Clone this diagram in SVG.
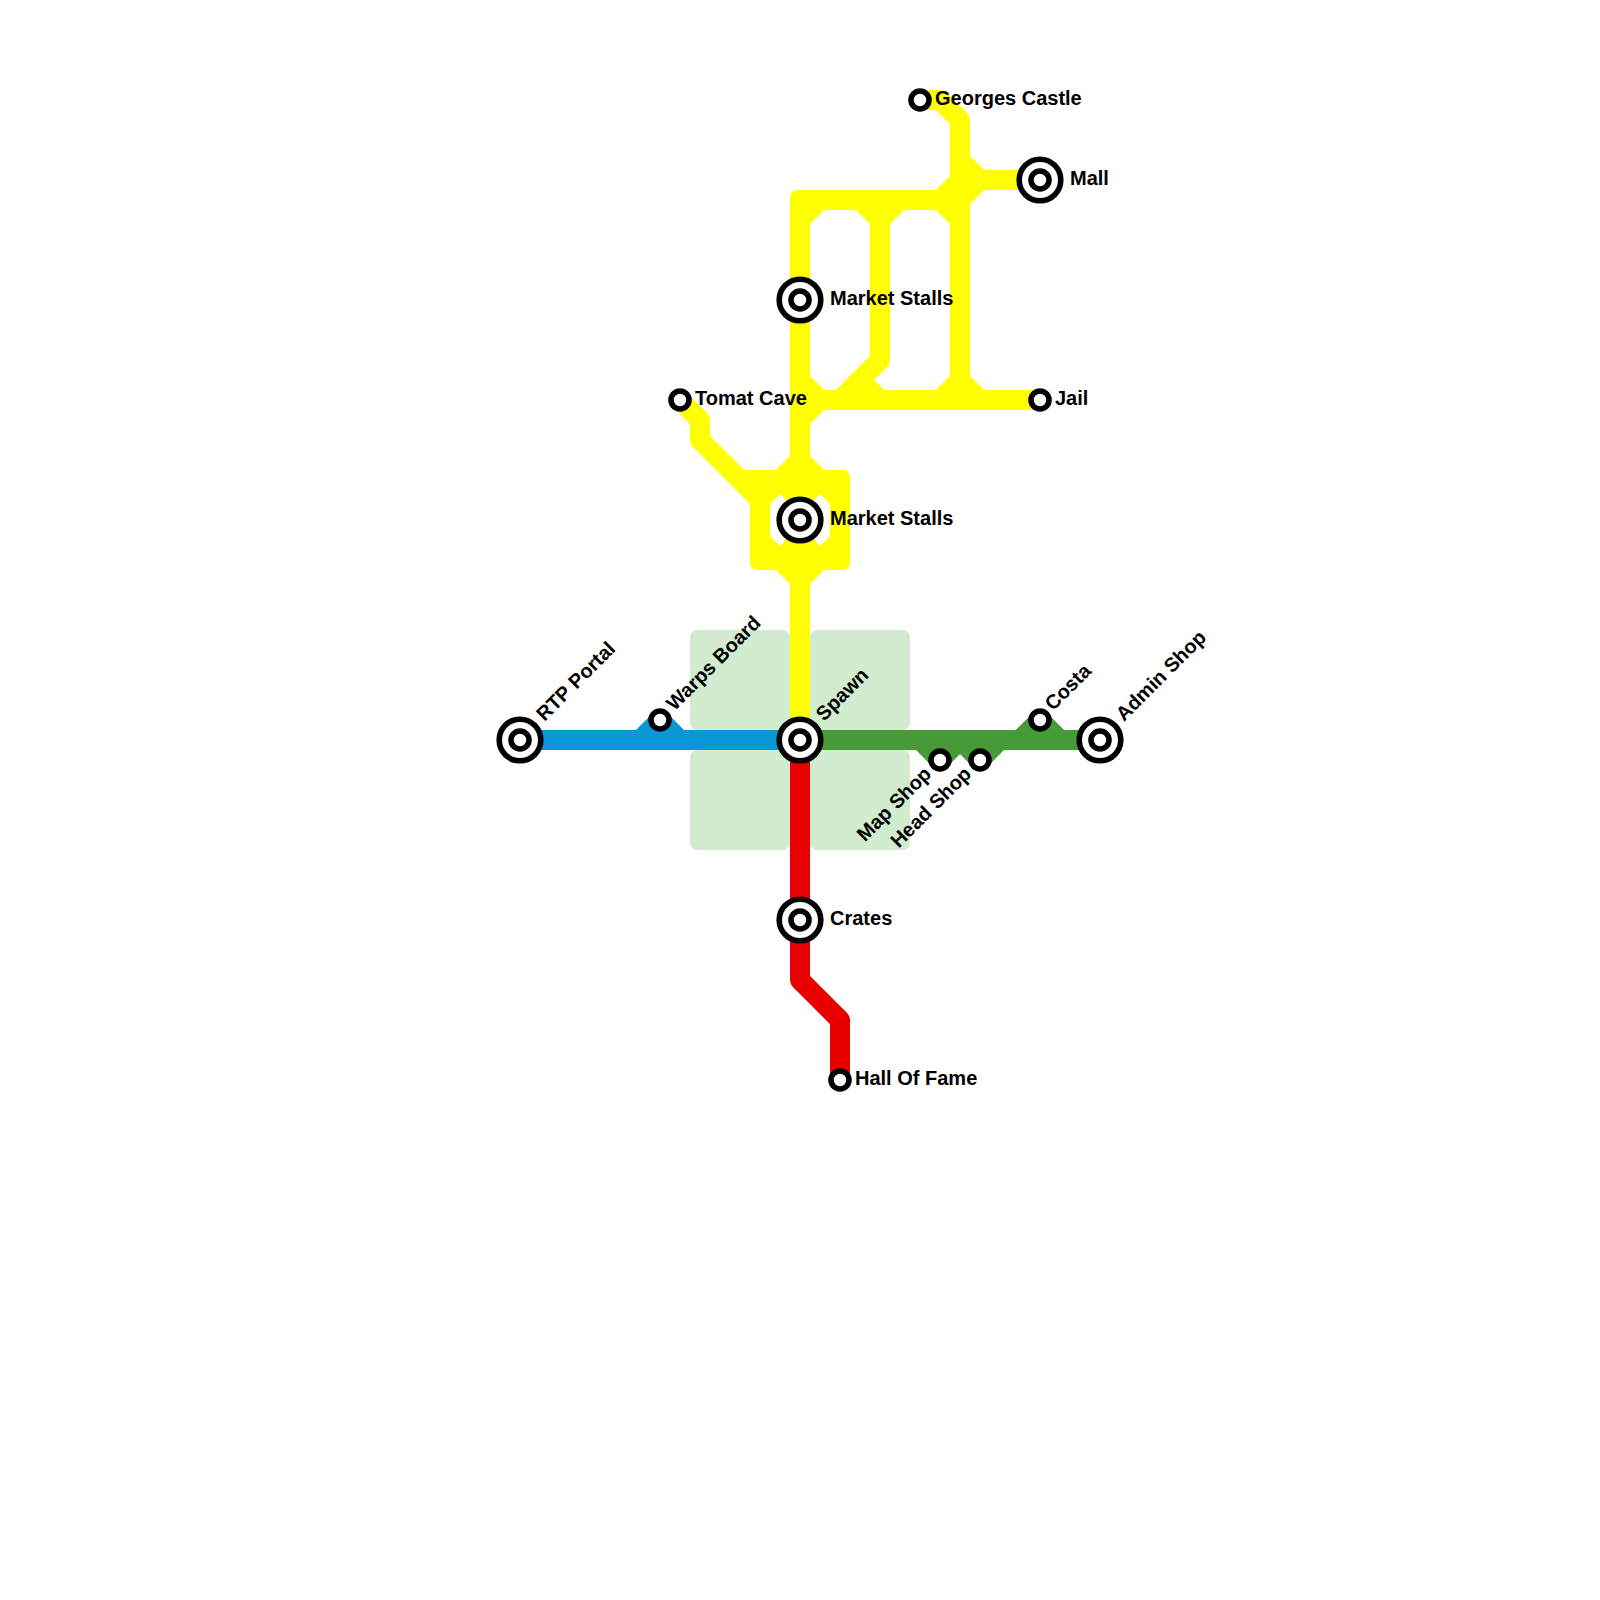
<svg xmlns="http://www.w3.org/2000/svg" width="1600" height="1600" viewBox="0 0 1600 1600">
<style>
.block{fill:#d2ecd0}
.l{fill:none;stroke-width:20;stroke-linejoin:round;stroke-linecap:butt}
.y{stroke:#ffff00}.b{stroke:#0997d8}.g{stroke:#469b38}.r{stroke:#e80000}
.c{fill:#ffff00}
.o{fill:#fff;stroke:#000;stroke-width:5.6}
.i{fill:#fff;stroke:#000;stroke-width:5.6}
text{font-family:"Liberation Sans",Arial,sans-serif;font-size:20px;font-weight:bold;fill:#000}
</style>
<defs>
<g id="big"><circle class="o" r="20.8"/><circle class="i" r="9"/></g>
<g id="small"><circle class="i" r="9"/></g>
<rect id="corner" class="c" x="-10" y="-10" width="20" height="20" rx="7"/>
</defs>
<g id="blocks">
<rect class="block" x="690" y="630" width="100" height="100" rx="7"/>
<rect class="block" x="810" y="630" width="100" height="100" rx="7"/>
<rect class="block" x="690" y="750" width="100" height="100" rx="7"/>
<rect class="block" x="810" y="750" width="100" height="100" rx="7"/>
</g>
<g id="connectors">
<path class="l y" d="M800 740V200M800 200H960"/>
<use href="#corner" x="800" y="200"/>
<path class="l y" d="M800 220L820 200M800 380L820 400M800 420L820 400"/>
<path class="l y" d="M860 200L880 220V360L840 400M900 200L880 220M860 380L880 400"/>
<path class="l y" d="M920 100H940L960 120V400M960 160L980 180M940 200L960 180M960 200L980 180M940 200L960 220"/>
<path class="l y" d="M960 180H1040M800 400H1040M960 380L940 400M960 380L980 400"/>
<path class="l y" d="M680 400L700 420V440L760 500V540L780 560L800 580"/>
<path class="l y" d="M800 460L780 480L760 500M800 460L820 480L840 500V540L820 560L800 580"/>
<path class="l y" d="M744 480H780L800 500L820 480H840M840 480V560M840 560H760M760 560V490"/>
<use href="#corner" x="840" y="480"/>
<use href="#corner" x="840" y="560"/>
<use href="#corner" x="760" y="560"/>
<path class="l y" d="M800 540L780 560M800 540L820 560"/>
<path class="l b" d="M520 740H800M640 740L660 720L680 740"/>
<path class="l g" d="M800 740H1100M920 740L940 760L960 740L980 760L1000 740M1020 740L1040 720L1060 740"/>
<path class="l r" d="M800 740V980L840 1020V1080"/>
</g>
<g id="rtp-portal"><use href="#big" x="520" y="740"/><text transform="translate(544.5 722) rotate(-45)">RTP Portal</text></g>
<g id="warps-board"><use href="#small" x="660" y="720"/><text transform="translate(674.5 711.5) rotate(-45)">Warps Board</text></g>
<g id="spawn"><use href="#big" x="800" y="740"/><text transform="translate(824 722) rotate(-45)">Spawn</text></g>
<g id="costa"><use href="#small" x="1040" y="720"/><text transform="translate(1053 711.5) rotate(-45)">Costa</text></g>
<g id="admin-shop"><use href="#big" x="1100" y="740"/><text transform="translate(1124 722) rotate(-45)">Admin Shop</text></g>
<g id="map-shop"><use href="#small" x="940" y="760"/><text text-anchor="end" transform="translate(932.5 775) rotate(-45)">Map Shop</text></g>
<g id="head-shop"><use href="#small" x="980" y="760"/><text text-anchor="end" transform="translate(972.5 775) rotate(-45)">Head Shop</text></g>
<g id="crates"><use href="#big" x="800" y="920"/><text x="830" y="925">Crates</text></g>
<g id="hall-of-fame"><use href="#small" x="840" y="1080"/><text x="855" y="1085">Hall Of Fame</text></g>
<g id="market-stalls-2"><use href="#big" x="800" y="520"/><text x="830" y="525">Market Stalls</text></g>
<g id="market-stalls-1"><use href="#big" x="800" y="300"/><text x="830" y="305">Market Stalls</text></g>
<g id="tomat-cave"><use href="#small" x="680" y="400"/><text x="695" y="405">Tomat Cave</text></g>
<g id="jail"><use href="#small" x="1040" y="400"/><text x="1055" y="405">Jail</text></g>
<g id="mall"><use href="#big" x="1040" y="180"/><text x="1070" y="185">Mall</text></g>
<g id="georges-castle"><use href="#small" x="920" y="100"/><text x="935" y="105">Georges Castle</text></g>
</svg>
